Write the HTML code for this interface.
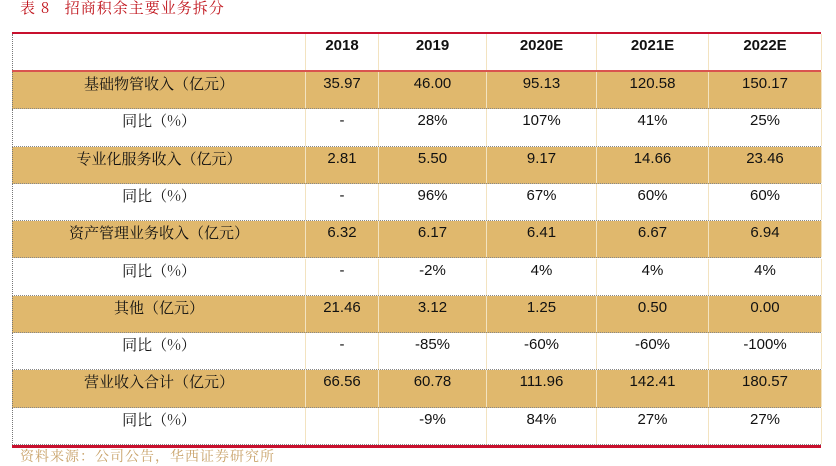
<!DOCTYPE html>
<html><head><meta charset="utf-8">
<style>
body{margin:0;width:836px;height:464px;background:#fff;position:relative;overflow:hidden;font-family:"Liberation Sans","Noto Serif CJK SC",sans-serif;}
#title{position:absolute;left:20px;top:-3px;font-size:15px;color:#c0141c;font-family:"Noto Serif CJK SC",serif;letter-spacing:1px;white-space:pre}
.row{position:absolute;left:12px;width:809px;box-sizing:border-box;border-bottom:1px dotted #888;border-left:1px dotted #777}
.row.g{background:#e0b86d}
.c{position:absolute;top:0;height:100%;text-align:center;font-size:15px;color:#111;box-sizing:border-box;border-right:1px solid #f3e3c0}
.l{font-family:"Noto Serif CJK SC",serif}
.h .c{font-weight:bold}
#src{position:absolute;left:20px;top:448px;font-size:14px;color:#c9a36a;font-family:"Noto Serif CJK SC",serif;letter-spacing:1px;line-height:17px}
.topline{position:absolute;left:12px;width:809px;top:32px;height:2px;background:#c8102e}
.hline{position:absolute;left:12px;width:809px;top:70px;height:2px;background:#d9534f}
.botline{position:absolute;left:12px;width:809px;top:445px;height:3px;background:#c8102e}
</style></head><body>
<div id="title">表 8   招商积余主要业务拆分</div>
<div id="tbl"></div>
<div class="topline"></div>
<div class="hline"></div>
<div class="botline"></div>
<div id="src">资料来源：公司公告，华西证券研究所</div>
<script>
const headers=["","2018","2019","2020E","2021E","2022E"];
const rows=[
["基础物管收入（亿元）","35.97","46.00","95.13","120.58","150.17"],
["同比（%）","-","28%","107%","41%","25%"],
["专业化服务收入（亿元）","2.81","5.50","9.17","14.66","23.46"],
["同比（%）","-","96%","67%","60%","60%"],
["资产管理业务收入（亿元）","6.32","6.17","6.41","6.67","6.94"],
["同比（%）","-","-2%","4%","4%","4%"],
["其他（亿元）","21.46","3.12","1.25","0.50","0.00"],
["同比（%）","-","-85%","-60%","-60%","-100%"],
["营业收入合计（亿元）","66.56","60.78","111.96","142.41","180.57"],
["同比（%）","","-9%","84%","27%","27%"]];
const edges=[0,293,366,474,584,696,809];
const tbl=document.getElementById('tbl');
function mk(cells,top,h,cls,lh,name){
 const r=document.createElement('div');
 
 
 r.className='row '+cls;r.style.top=top+'px';r.style.height=h+'px';
 if(cls==='h'||name==='total-yoy-row')r.style.borderBottom='none';
 cells.forEach((t,i)=>{const c=document.createElement('div');
  
  
  c.className='c'+(i===0?' l':'');c.style.left=edges[i]+'px';c.style.width=(edges[i+1]-edges[i])+'px';
  c.style.lineHeight=lh+'px';c.textContent=t;r.appendChild(c);});
 tbl.appendChild(r);
}
mk(headers,34,36,'h',24,'header-row');
rows.forEach((r,i)=>mk(r,72+i*37.3,37.3,i%2===0?'g':'',24,i%2===0?'value-row':'yoy-row'));
</script>
</body></html>
